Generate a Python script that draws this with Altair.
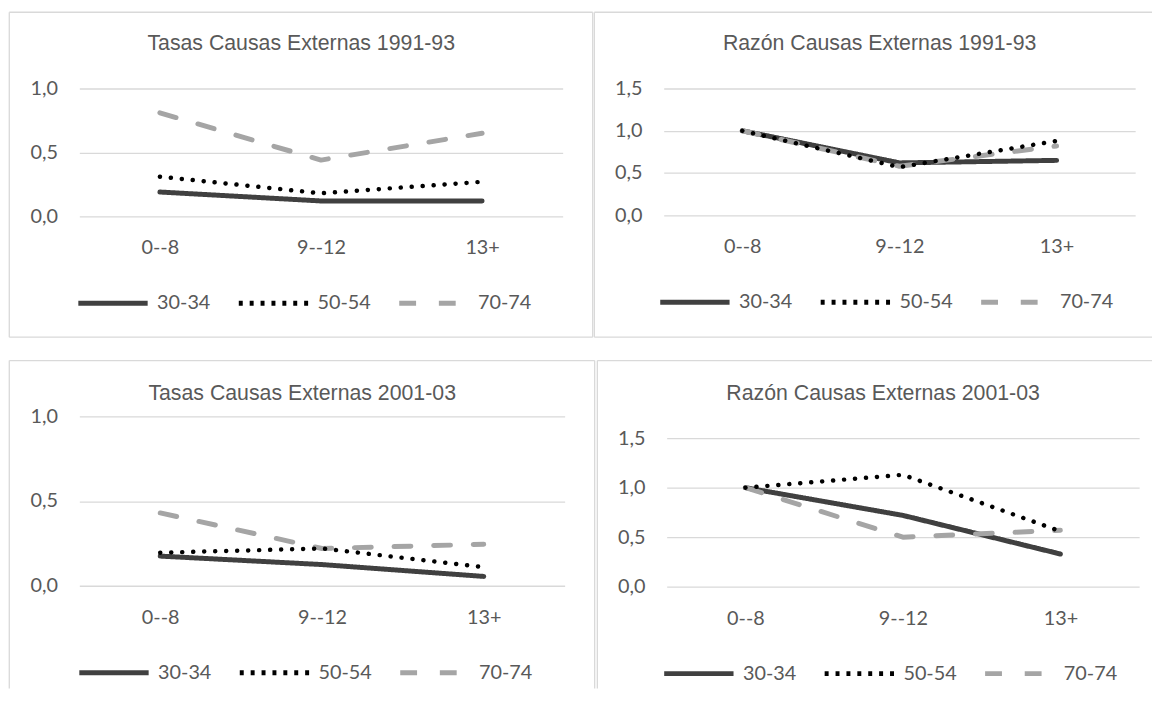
import altair as alt
import pandas as pd

categorias = ["0--8", "9--12", "13+"]
grupos = ["30-34", "50-54", "70-74"]

tasas_9193_3034 = [0.19, 0.12, 0.12]
tasas_9193_5054 = [0.31, 0.18, 0.27]
tasas_9193_7074 = [0.81, 0.44, 0.65]

razon_9193_3034 = [1.00, 0.62, 0.65]
razon_9193_5054 = [1.00, 0.57, 0.88]
razon_9193_7074 = [1.00, 0.58, 0.82]

tasas_0103_3034 = [0.175, 0.125, 0.055]
tasas_0103_5054 = [0.195, 0.22, 0.11]
tasas_0103_7074 = [0.43, 0.22, 0.245]

razon_0103_3034 = [1.00, 0.72, 0.33]
razon_0103_5054 = [1.00, 1.13, 0.56]
razon_0103_7074 = [1.00, 0.50, 0.57]

colores = ["#404040", "#000000", "#A5A5A5"]
trazos = [[1, 0], [4, 7], [17, 23]]

TEXT = "#595959"
BORDER = "#D9D9D9"
LABEL_FONT = "Lato"
TITLE_FONT = "Liberation Sans"


def tabla(s1, s2, s3):
    rows = []
    for g, serie in zip(grupos, [s1, s2, s3]):
        for c, v in zip(categorias, serie):
            rows.append({"cat": c, "grupo": g, "valor": v})
    return pd.DataFrame(rows)


def hrule(x1, x2, y):
    return alt.Chart(alt.Data(values=[{}])).mark_rule(color=BORDER, strokeWidth=1.3).encode(
        x=alt.value(x1), x2=alt.value(x2), y=alt.value(y))


def vrule(x, y1, y2):
    return alt.Chart(alt.Data(values=[{}])).mark_rule(color=BORDER, strokeWidth=1.3).encode(
        x=alt.value(x), y=alt.value(y1), y2=alt.value(y2))


def panel(titulo, s1, s2, s3, w, h, ymax, ticks, rules, title_dy, legend_x):
    df = tabla(s1, s2, s3)
    leg = alt.Legend(title=None, orient="none", direction="horizontal",
                     legendX=legend_x, legendY=h + 50)
    x = alt.X("cat:N", sort=categorias,
              axis=alt.Axis(title=None, labelAngle=0, domain=False, ticks=False,
                            labelPadding=32, labelBaseline="middle"))
    y = alt.Y("valor:Q", scale=alt.Scale(domain=[0, ymax], nice=False, zero=True),
              axis=alt.Axis(title=None, values=ticks, domain=False, ticks=False,
                            labelPadding=22, grid=True,
                            labelExpr="replace(format(datum.value, '.1f'), '.', ',')"))
    base = alt.Chart(df)
    main = base.transform_filter(alt.datum.grupo != "50-54").mark_line(
        strokeWidth=5, strokeCap="round", strokeJoin="round").encode(
        x=x, y=y,
        color=alt.Color("grupo:N", scale=alt.Scale(domain=grupos, range=colores), legend=leg),
        strokeDash=alt.StrokeDash("grupo:N", scale=alt.Scale(domain=grupos, range=trazos), legend=leg),
    )
    dotted = base.transform_filter(alt.datum.grupo == "50-54").mark_line(
        strokeWidth=4.5, strokeCap="round", strokeJoin="round", strokeDash=[0.1, 11],
        color="#000000").encode(x=x, y=y, detail="grupo:N")
    return alt.layer(*rules, main, dotted).properties(
        width=w, height=h,
        title=alt.TitleParams(titulo, font=TITLE_FONT, fontSize=21.5, fontWeight="normal",
                              color=TEXT, frame="group", anchor="middle", baseline="middle",
                              offset=0, dx=-20, dy=title_dy),
    )


tl = panel("Tasas Causas Externas 1991-93", tasas_9193_3034, tasas_9193_5054, tasas_9193_7074,
           488, 129, 1.0, [0, 0.5, 1.0],
           [hrule(-70.7, 518.3, -77), hrule(-70.7, 518.3, 251),
            vrule(-70.7, -77, 251), vrule(518.3, -77, 251)],
           54.6, -3.5)
tr = panel("Razón Causas Externas 1991-93", razon_9193_3034, razon_9193_5054, razon_9193_7074,
           476, 128, 1.5, [0, 0.5, 1.0, 1.5],
           [hrule(-70, 493, -77), hrule(-70, 493, 251), vrule(-70, -77, 251)],
           54.6, -6)
bl = panel("Tasas Causas Externas 2001-03", tasas_0103_3034, tasas_0103_5054, tasas_0103_7074,
           490, 171, 1.0, [0, 0.5, 1.0],
           [hrule(-70.7, 520.3, -56.3), vrule(-70.7, -56.3, 274.7), vrule(520.3, -56.3, 274.7)],
           56.3, -2.5)
br = panel("Razón Causas Externas 2001-03", razon_0103_3034, razon_0103_5054, razon_0103_7074,
           477, 172, 1.72, [0, 0.5, 1.0, 1.5],
           [hrule(-70, 490, -56.3), vrule(-70, -56.3, 274.7)],
           56.3, -5)

row1 = alt.hconcat(tl, tr, spacing=0).resolve_scale(color="independent", strokeDash="independent")
row2 = alt.hconcat(bl, br, spacing=1).resolve_scale(color="independent", strokeDash="independent")

chart = alt.vconcat(row1, row2, spacing=22).resolve_scale(
    color="independent", strokeDash="independent"
).properties(
    padding={"left": 0, "top": 0, "right": 0, "bottom": 0},
    background="white",
).configure_view(stroke=None).configure_axis(
    labelFont=LABEL_FONT, labelFontSize=20, labelColor=TEXT,
    gridColor=BORDER, gridWidth=1.3,
).configure_legend(
    labelFont=LABEL_FONT, labelFontSize=20, labelColor=TEXT,
    symbolType="stroke", symbolSize=4900, symbolStrokeWidth=5,
    labelOffset=7, columnPadding=18, padding=0, labelLimit=200,
)

chart.save("out.html", embed_options={"renderer": "svg", "actions": False})
